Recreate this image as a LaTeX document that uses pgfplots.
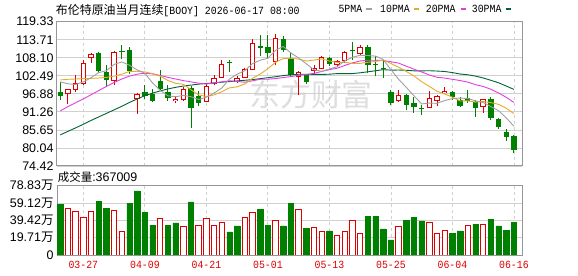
\documentclass[border=0pt]{standalone}
\usepackage{fontspec}
\setmainfont{Liberation Sans}
\newfontfamily\cjk{Noto Sans CJK SC}
\newfontfamily\mono[FakeStretch=0.9]{Liberation Mono}
\usepackage{pgfplots}
\pgfplotsset{compat=1.18}
\definecolor{kred}{RGB}{222,0,0}
\definecolor{kgreen}{RGB}{0,128,0}
\definecolor{ma5}{RGB}{160,160,160}
\definecolor{ma10}{RGB}{232,170,40}
\definecolor{ma20}{RGB}{228,60,228}
\definecolor{ma30}{RGB}{0,100,50}
\definecolor{gridc}{RGB}{208,208,208}
\definecolor{framec}{RGB}{150,150,150}
\pgfplotsset{
  kbase/.style={
    scale only axis, width=465bp,
    xmin=0.57, xmax=61.05,
    axis line style={draw=framec, line width=1bp},
    major tick length=0pt,
    xtick={4,12,20,28,36,44,52,60},
    xmajorgrids, ymajorgrids,
    x grid style={draw=gridc, line width=0.8bp, dash pattern=on 3bp off 3bp},
    y grid style={draw=gridc, line width=0.8bp},
    yticklabel style={font=\fontsize{12.5}{12.5}\selectfont, text=black},
    clip=true,
  }
}
\begin{document}
\begin{tikzpicture}
\useasboundingbox (0,0) rectangle (578bp,276bp);
% watermark
\node[text=black!13, font=\cjk\fontsize{31}{31}\selectfont] at (311bp,181bp) {东方财富};
% title
\node[anchor=base west, inner sep=0pt] at (55.7bp,261.5bp) {\fontsize{12}{12}\selectfont{\cjk 布伦特原油当月连续}{\mono\fontsize{11}{11}\selectfont [BOOY] 2026-06-17 08:00}};
% legend
\node[anchor=base west, inner sep=0pt, font=\mono\fontsize{11}{11}\selectfont] at (338.3bp,263.3bp) {5PMA};
\draw[ma5, line width=2bp] (366bp,266.5bp) -- (371.5bp,266.5bp);
\node[anchor=base west, inner sep=0pt, font=\mono\fontsize{11}{11}\selectfont] at (380bp,263.3bp) {10PMA};
\draw[ma10, line width=2bp] (413.5bp,266.5bp) -- (419bp,266.5bp);
\node[anchor=base west, inner sep=0pt, font=\mono\fontsize{11}{11}\selectfont] at (425.7bp,263.3bp) {20PMA};
\draw[ma20, line width=2bp] (460.5bp,266.5bp) -- (466bp,266.5bp);
\node[anchor=base west, inner sep=0pt, font=\mono\fontsize{11}{11}\selectfont] at (471.7bp,263.3bp) {30PMA};
\draw[ma30, line width=2bp] (505.5bp,266.5bp) -- (511bp,266.5bp);
% volume caption
\node[anchor=base west, inner sep=0pt] at (57.7bp,94.5bp) {{\cjk\fontsize{11.5}{11.5}\selectfont 成交量}{\fontsize{12.5}{12.5}\selectfont:367009}};

% ---------------- price panel ----------------
\begin{axis}[kbase, at={(57bp,110bp)}, anchor=south west, height=144.3bp,
  ymin=74.42, ymax=119.33,
  ytick={74.42,80.04,85.65,91.26,96.88,102.49,108.10,113.71,119.33},
  yticklabels={74.42,80.04,85.65,91.26,96.88,102.49,108.10,113.71,119.33},
  xticklabels={},
  unbounded coords=jump]
% red wicks
\addplot[kred, line width=1bp] coordinates {(2,93.8)(2,98.4)(2,nan)(3,97.4)(3,102.6)(3,nan)(4,99.5)(4,107.3)(4,nan)(5,106.4)(5,109.6)(5,nan)(8,99.5)(8,110.1)(8,nan)(11,90.7)(11,97.1)(11,nan)(16,94.0)(16,96.06)(16,nan)(17,94.6)(17,98.97)(17,nan)(20,94.3)(20,100.0)(20,nan)(21,99.5)(21,102.6)(21,nan)(22,101.9)(22,107.5)(22,nan)(24,100.2)(24,102.3)(24,nan)(25,101.9)(25,105.0)(25,nan)(26,104.2)(26,113.8)(26,nan)(29,105.7)(29,115.6)(29,nan)(32,96.4)(32,103.9)(32,nan)(34,103.1)(34,105.9)(34,nan)(35,104.5)(35,108.5)(35,nan)(37,105.4)(37,107.3)(37,nan)(38,106.6)(38,110.3)(38,nan)(40,109.1)(40,112.2)(40,nan)(45,94.3)(45,98.0)(45,nan)(49,92.5)(49,97.9)(49,nan)(50,93.15)(50,96.5)(50,nan)(51,96.9)(51,99.0)(51,nan)(56,91.0)(56,95.3)};
% green wicks
\addplot[kgreen, line width=1bp] coordinates {(1,95.0)(1,100.7)(1,nan)(6,103.3)(6,110.0)(6,nan)(7,99.1)(7,106.0)(7,nan)(9,107.8)(9,112.2)(9,nan)(10,103.1)(10,111.6)(10,nan)(12,95.3)(12,99.5)(12,nan)(13,94.3)(13,98.4)(13,nan)(14,97.9)(14,104.2)(14,nan)(15,94.8)(15,99.5)(15,nan)(18,86.3)(18,99.2)(18,nan)(19,93.15)(19,97.7)(19,nan)(23,103.6)(23,107.5)(23,nan)(27,108.8)(27,115.1)(27,nan)(28,108.1)(28,115.1)(28,nan)(30,109.9)(30,114.8)(30,nan)(31,102.1)(31,109.8)(31,nan)(33,100.0)(33,103.1)(33,nan)(36,105.5)(36,108.4)(36,nan)(39,107.5)(39,113.0)(39,nan)(41,103.5)(41,112.0)(41,nan)(42,102.4)(42,108.8)(42,nan)(43,101.8)(43,107.5)(43,nan)(44,93.3)(44,98.1)(44,nan)(46,91.9)(46,96.7)(46,nan)(47,91.0)(47,95.9)(47,nan)(48,90.3)(48,93.3)(48,nan)(52,95.0)(52,97.9)(52,nan)(53,92.7)(53,95.9)(53,nan)(54,94.0)(54,98.1)(54,nan)(55,89.6)(55,95.0)(55,nan)(57,88.8)(57,95.9)(57,nan)(58,86.0)(58,89.4)(58,nan)(59,82.3)(59,86.0)(59,nan)(60,78.4)(60,84.2)};
% green bodies
\addplot[kgreen, line width=5.4bp] coordinates {(1,97.4)(1,96.06)(1,nan)(6,109.7)(6,104.0)(6,nan)(7,103.7)(7,101.2)(7,nan)(9,110.25)(9,109.95)(9,nan)(10,110.5)(10,104.0)(10,nan)(12,97.4)(12,96.06)(12,nan)(13,96.7)(13,94.6)(13,nan)(14,101.0)(14,98.4)(14,nan)(15,97.6)(15,95.6)(15,nan)(18,98.65)(18,92.5)(18,nan)(19,96.06)(19,94.1)(19,nan)(23,106.65)(23,106.35)(23,nan)(27,111.9)(27,111.2)(27,nan)(28,111.6)(28,109.6)(28,nan)(30,114.0)(30,110.6)(30,nan)(31,108.1)(31,102.6)(31,nan)(33,102.9)(33,100.5)(33,nan)(36,108.0)(36,106.3)(36,nan)(39,110.4)(39,110.1)(39,nan)(41,111.5)(41,105.9)(41,nan)(42,106.1)(42,105.8)(42,nan)(43,105.0)(43,104.7)(43,nan)(44,97.6)(44,94.0)(44,nan)(46,96.4)(46,93.3)(46,nan)(47,94.0)(47,92.7)(47,nan)(48,92.4)(48,92.1)(48,nan)(52,97.4)(52,95.8)(52,nan)(53,95.1)(53,93.0)(53,nan)(54,95.6)(54,94.6)(54,nan)(55,94.3)(55,92.5)(55,nan)(57,95.3)(57,89.3)(57,nan)(58,88.9)(58,86.7)(58,nan)(59,85.15)(59,83.4)(59,nan)(60,83.9)(60,79.4)};
% red bodies (outline)
\addplot[kred, line width=5.4bp] coordinates {(2,96.75)(2,98.25)(2,nan)(3,97.95)(3,100.15)(3,nan)(4,99.85)(4,106.35)(4,nan)(5,107.95)(5,109.25)(5,nan)(8,100.85)(8,109.85)(8,nan)(11,95.15)(11,96.85)(11,nan)(16,94.65)(16,95.35)(16,nan)(17,94.85)(17,98.35)(17,nan)(20,94.35)(20,99.35)(20,nan)(21,99.85)(21,101.75)(21,nan)(22,101.95)(22,106.15)(22,nan)(24,100.65)(24,101.85)(24,nan)(25,101.95)(25,104.75)(25,nan)(26,104.25)(26,112.85)(26,nan)(29,106.65)(29,114.15)(29,nan)(32,102.15)(32,103.55)(32,nan)(34,104.05)(34,104.85)(34,nan)(35,104.55)(35,108.35)(35,nan)(37,105.95)(37,106.95)(37,nan)(38,106.95)(38,110.05)(38,nan)(40,109.35)(40,111.45)(40,nan)(45,94.75)(45,96.65)(45,nan)(49,92.55)(49,95.45)(49,nan)(50,94.65)(50,96.25)(50,nan)(51,97.05)(51,97.75)(51,nan)(56,92.75)(56,95.25)};
% red bodies (hollow inside)
\addplot[white, line width=3.4bp] coordinates {(2,97.06)(2,97.94)(2,nan)(3,98.26)(3,99.84)(3,nan)(4,100.16)(4,106.04)(4,nan)(5,108.26)(5,108.94)(5,nan)(8,101.16)(8,109.54)(8,nan)(11,95.46)(11,96.54)(11,nan)(16,94.96)(16,95.04)(16,nan)(17,95.16)(17,98.04)(17,nan)(20,94.66)(20,99.04)(20,nan)(21,100.16)(21,101.44)(21,nan)(22,102.26)(22,105.84)(22,nan)(24,100.96)(24,101.54)(24,nan)(25,102.26)(25,104.44)(25,nan)(26,104.56)(26,112.54)(26,nan)(29,106.96)(29,113.84)(29,nan)(32,102.46)(32,103.24)(32,nan)(34,104.36)(34,104.54)(34,nan)(35,104.86)(35,108.04)(35,nan)(37,106.26)(37,106.64)(37,nan)(38,107.26)(38,109.74)(38,nan)(40,109.66)(40,111.14)(40,nan)(45,95.06)(45,96.34)(45,nan)(49,92.86)(49,95.14)(49,nan)(50,94.96)(50,95.94)(50,nan)(51,97.36)(51,97.44)(51,nan)(56,93.06)(56,94.94)};
% moving averages
\addplot[ma30, line width=0.9bp] coordinates {(1,84.1)(2,85.2)(3,86.3)(4,87.4)(5,88.6)(6,89.7)(7,90.8)(8,91.9)(9,93.0)(10,94.2)(11,95.3)(12,96.3)(13,97.1)(14,97.8)(15,98.4)(16,98.9)(17,99.3)(18,99.6)(19,99.9)(20,100.1)(21,100.3)(22,100.5)(23,100.7)(24,100.9)(25,101.1)(26,101.3)(27,101.6)(28,101.9)(29,102.2)(30,102.58)(31,102.8)(32,102.98)(33,102.99)(34,102.94)(35,102.91)(36,102.99)(37,103.18)(38,103.18)(39,103.19)(40,103.43)(41,103.74)(42,104.06)(43,104.4)(44,104.26)(45,104.29)(46,104.22)(47,104.04)(48,104.03)(49,104.07)(50,103.97)(51,103.83)(52,103.49)(53,103.04)(54,102.81)(55,102.4)(56,101.82)(57,101.09)(58,100.32)(59,99.3)(60,98.26)};
\addplot[ma20, line width=0.9bp] coordinates {(1,91.6)(2,92.9)(3,94.1)(4,95.3)(5,96.6)(6,97.9)(7,99.2)(8,100.4)(9,101.5)(10,102.4)(11,103.0)(12,103.3)(13,103.1)(14,102.6)(15,102.0)(16,101.5)(17,101.0)(18,100.6)(19,100.2)(20,99.95)(21,100.22)(22,100.62)(23,100.94)(24,100.72)(25,100.5)(26,100.93)(27,101.43)(28,101.43)(29,101.62)(30,101.95)(31,102.25)(32,102.62)(33,102.91)(34,103.23)(35,103.86)(36,104.41)(37,104.84)(38,105.71)(39,106.51)(40,107.12)(41,107.33)(42,107.33)(43,107.24)(44,106.86)(45,106.45)(46,105.48)(47,104.56)(48,103.69)(49,102.75)(50,102.03)(51,101.78)(52,101.4)(53,101.02)(54,100.52)(55,99.73)(56,99.17)(57,98.3)(58,97.14)(59,95.8)(60,94.2)};
\addplot[ma10, line width=0.9bp] coordinates {(1,101.2)(2,101.4)(3,101.5)(4,101.6)(5,101.7)(6,101.8)(7,102.0)(8,102.4)(9,103.0)(10,103.84)(11,103.9)(12,103.7)(13,103.16)(14,102.38)(15,101.03)(16,100.15)(17,99.85)(18,98.13)(19,96.54)(20,96.06)(21,96.55)(22,97.54)(23,98.73)(24,99.06)(25,99.96)(26,101.71)(27,103.01)(28,104.72)(29,106.71)(30,107.85)(31,107.95)(32,107.69)(33,107.09)(34,107.39)(35,107.75)(36,107.11)(37,106.67)(38,106.7)(39,106.31)(40,106.38)(41,106.71)(42,106.96)(43,107.39)(44,106.32)(45,105.15)(46,103.85)(47,102.44)(48,100.67)(49,99.19)(50,97.67)(51,96.84)(52,95.83)(53,94.65)(54,94.71)(55,94.31)(56,94.49)(57,94.15)(58,93.6)(59,92.41)(60,90.74)};
\addplot[ma5, line width=0.9bp] coordinates {(1,100.6)(2,100.0)(3,99.8)(4,100.6)(5,101.89)(6,103.48)(7,104.1)(8,106.04)(9,106.8)(10,105.78)(11,104.32)(12,103.29)(13,100.27)(14,97.95)(15,96.27)(16,95.97)(17,96.4)(18,95.98)(19,95.12)(20,95.84)(21,97.12)(22,98.68)(23,101.48)(24,103.0)(25,104.08)(26,106.3)(27,107.34)(28,107.96)(29,110.42)(30,111.62)(31,109.6)(32,108.04)(33,106.22)(34,104.36)(35,103.88)(36,104.62)(37,105.3)(38,107.18)(39,108.26)(40,108.88)(41,108.8)(42,108.62)(43,107.6)(44,104.38)(45,101.42)(46,98.9)(47,96.26)(48,93.74)(49,94.0)(50,93.92)(51,94.78)(52,95.4)(53,95.56)(54,95.42)(55,94.7)(56,94.2)(57,92.9)(58,91.64)(59,89.4)(60,86.78)};
\end{axis}

% ---------------- volume panel ----------------
\begin{axis}[kbase, at={(57bp,21bp)}, anchor=south west, height=69.3bp,
  ymin=0, ymax=78.83,
  ytick={0,19.71,39.42,59.12,78.83},
  yticklabels={0,{19.71{\cjk 万}},{39.42{\cjk 万}},{59.12{\cjk 万}},{78.83{\cjk 万}}},
  xticklabels={03-27,04-09,04-21,05-01,05-13,05-25,06-04,06-16},
  xticklabel style={font=\mono\fontsize{11}{11}\selectfont, text=kred, yshift=-2.5bp},
  ybar, bar width=5.4bp, bar shift=0pt]
\addplot[draw=kgreen, fill=kgreen, line width=0.5bp] coordinates {(1,57.2)(6,61.4)(7,53.4)(10,59.1)(11,72.8)(12,48.9)(13,34.1)(15,34.1)(16,36.4)(18,60.3)(23,26.2)(24,33.0)(27,52.3)(28,34.1)(30,33.0)(31,59.1)(33,30.7)(36,27.3)(41,44.3)(42,44.3)(43,29.6)(44,17.1)(46,39.8)(47,43.2)(48,38.7)(52,24.3)(53,27.3)(55,35.2)(57,40.9)(58,33.0)(59,28.4)(60,36.7)};
\addplot[draw=kred, fill=white, line width=1bp] coordinates {(2,53.1)(3,49.6)(4,42.8)(5,49.6)(8,50.8)(9,26.2)(14,41.7)(17,32.6)(19,34.1)(20,41.7)(21,33.0)(22,36.4)(25,42.8)(26,48.9)(29,39.4)(32,51.9)(34,31.5)(35,26.9)(37,22.7)(38,26.9)(39,39.4)(40,23.9)(45,32.6)(49,37.5)(50,23.9)(51,28.4)(54,34.1)(56,35.2)};
\end{axis}
\end{tikzpicture}
\end{document}
